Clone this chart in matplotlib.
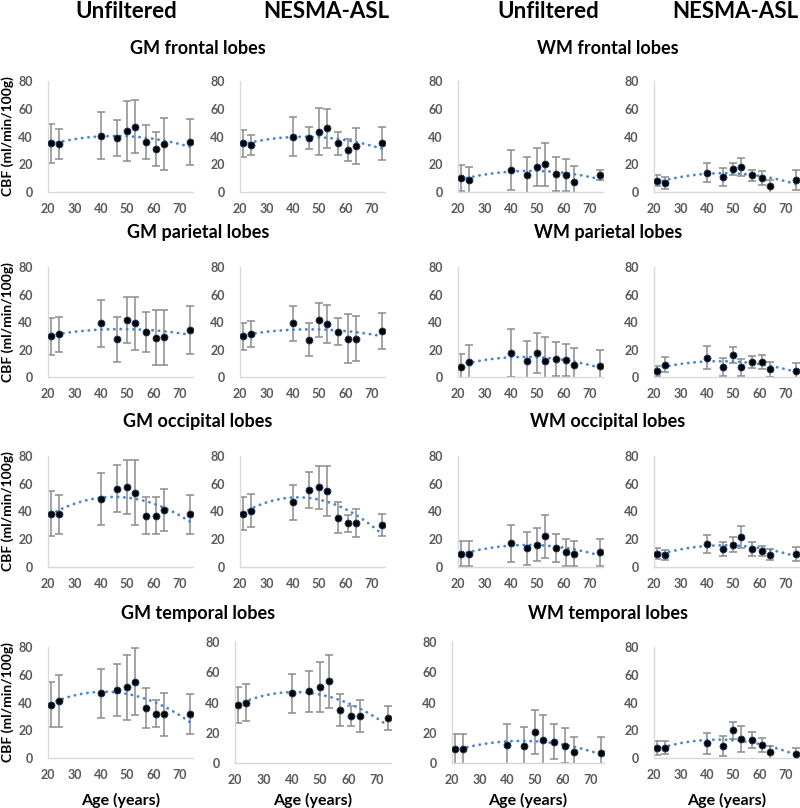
"""
CBF vs age, GM/WM lobes, unfiltered vs NESMA-ASL
"""

import numpy as np
import matplotlib
matplotlib.use('Agg')
import matplotlib.pyplot as plt

plt.rcParams['font.family'] = ['Lato', 'DejaVu Sans']

AGE = [21, 24, 40, 46, 50, 53, 57, 61, 64, 74]

# GM, unfiltered / NESMA-ASL (mean, sd)
gm_frontal_unf = [35, 34.5, 40.5, 39, 44, 47, 36, 31, 34.5, 36]
gm_frontal_unf_sd = [14, 11, 17, 13, 21.5, 19, 12, 12, 19, 16.5]
gm_frontal_nes = [35, 34, 40, 39, 43.5, 46, 35, 30, 33, 35]
gm_frontal_nes_sd = [10, 7, 14, 8, 17, 14, 8, 8, 13, 12]

gm_parietal_unf = [29.5, 31, 39, 27.5, 41.5, 39, 33, 28.5, 29, 34.5]
gm_parietal_unf_sd = [13.5, 12.5, 17, 16.5, 16.5, 19, 14.5, 20, 20, 17.5]
gm_parietal_nes = [29.5, 31, 39, 27, 41.5, 38.5, 33, 28, 28, 33.5]
gm_parietal_nes_sd = [10, 9.5, 13, 12, 12.5, 14, 10, 17.5, 16.5, 13]

gm_occipital_unf = [38.5, 38, 49, 56.5, 57.5, 53.5, 37, 37, 41, 38]
gm_occipital_unf_sd = [16.5, 14, 19, 17, 19.5, 23.5, 13.5, 13.5, 15, 14]
gm_occipital_nes = [38.5, 40.5, 46.5, 55.5, 57.5, 54.5, 35.5, 31.5, 31.5, 30.5]
gm_occipital_nes_sd = [12, 12, 12.5, 13, 15.5, 18, 11, 6, 10, 8]

gm_temporal_unf = [38.5, 41, 46.5, 49, 51, 55, 36, 32, 31.5, 31.5]
gm_temporal_unf_sd = [16.5, 18.5, 18, 19, 23.5, 24, 14.5, 10, 15.5, 14.5]
gm_temporal_nes = [38.5, 40, 46, 47.5, 50, 54, 35, 31, 31, 30]
gm_temporal_nes_sd = [12, 12, 13, 13.5, 16.5, 17.5, 10.5, 6.5, 10.5, 8]

# WM
wm_frontal_unf = [10, 8.5, 16, 12.5, 18, 20, 13, 12, 7.5, 12]
wm_frontal_unf_sd = [9.5, 9.5, 14.5, 13, 14, 15.5, 12, 11.5, 11.5, 3.5]
wm_frontal_nes = [8, 6.5, 14, 10.5, 16.5, 18, 12, 10, 4, 8.5]
wm_frontal_nes_sd = [4, 4.5, 7, 6.5, 4.5, 6.5, 4, 5, 4.5, 7]

wm_parietal_unf = [7.5, 11, 17.5, 11.5, 17.5, 12, 13, 12.5, 9, 8]
wm_parietal_unf_sd = [9, 12, 17.5, 15, 14.5, 17, 12.5, 11.5, 12, 11.5]
wm_parietal_nes = [4.5, 9, 14, 7, 16, 7, 11, 11, 5.5, 4.5]
wm_parietal_nes_sd = [3.5, 5.5, 8.5, 6.5, 5.5, 6, 4.5, 5, 5.5, 5.5]

wm_occipital_unf = [9.5, 9.5, 17, 13.5, 16, 22, 13.5, 10.5, 9.5, 10.5]
wm_occipital_unf_sd = [9, 9, 13.5, 12, 12, 15.5, 10, 10, 9, 9.5]
wm_occipital_nes = [9.5, 8.5, 16.5, 13, 16, 21.5, 13, 11.5, 9, 9.5]
wm_occipital_nes_sd = [4, 3.5, 6.5, 5, 5.5, 8, 5, 3.5, 4, 5]

wm_temporal_unf = [9.5, 9, 12, 11, 20.5, 15.5, 14, 11.5, 7, 6.5]
wm_temporal_unf_sd = [10, 10, 13.5, 13, 14.5, 16.5, 11.5, 11.5, 10.5, 10.5]
wm_temporal_nes = [7.5, 7.5, 10.5, 8.5, 20, 13.5, 13, 9.5, 4, 3]
wm_temporal_nes_sd = [5, 4.5, 7.5, 7, 6, 9.5, 5.5, 5, 4.5, 4.5]

ROWS = ['frontal', 'parietal', 'occipital', 'temporal']
PANELS = {
    'frontal': [(gm_frontal_unf, gm_frontal_unf_sd), (gm_frontal_nes, gm_frontal_nes_sd),
                (wm_frontal_unf, wm_frontal_unf_sd), (wm_frontal_nes, wm_frontal_nes_sd)],
    'parietal': [(gm_parietal_unf, gm_parietal_unf_sd), (gm_parietal_nes, gm_parietal_nes_sd),
                 (wm_parietal_unf, wm_parietal_unf_sd), (wm_parietal_nes, wm_parietal_nes_sd)],
    'occipital': [(gm_occipital_unf, gm_occipital_unf_sd), (gm_occipital_nes, gm_occipital_nes_sd),
                  (wm_occipital_unf, wm_occipital_unf_sd), (wm_occipital_nes, wm_occipital_nes_sd)],
    'temporal': [(gm_temporal_unf, gm_temporal_unf_sd), (gm_temporal_nes, gm_temporal_nes_sd),
                 (wm_temporal_unf, wm_temporal_unf_sd), (wm_temporal_nes, wm_temporal_nes_sd)],
}

W, H = 800, 808
ROW_Y = [(81, 192), (267, 377), (456, 567), (647, 758)]
COL_X = [(48, 193), (240, 385), (458, 603), (654, 799)]
# last row is a bit uneven in the original
SPECIAL = {(3, 1): ((235, 391), (642, 763)), (3, 2): ((452, 604), (642, 763))}

TICK_C = '#595959'
SPINE_C = '#d9d9d9'
TREND_C = '#4a86c8'


def px_axes(fig, x0, x1, y0, y1):
    return fig.add_axes([x0 / W, 1 - y1 / H, (x1 - x0) / W, (y1 - y0) / H])


def draw_panel(ax, mean, sd):
    age = np.array(AGE, dtype=float)
    mean = np.array(mean, dtype=float)
    ax.errorbar(age, mean, yerr=sd, fmt='none', ecolor='#8c8c8c', elinewidth=1.1,
                capsize=3, capthick=1.1, zorder=2)
    # 2nd order polynomial trendline, as in Excel
    coef = np.polyfit(age, mean, 2)
    xs = np.linspace(age.min(), age.max(), 120)
    ax.plot(xs, np.polyval(coef, xs), color=TREND_C, lw=2, linestyle=(0, (0.1, 2.2)),
            dash_capstyle='round', zorder=3)
    ax.plot(age, mean, 'o', color='black', markersize=5, markeredgecolor='#1f3b66',
            markeredgewidth=0.6, zorder=4)

    ax.set_xlim(20, 75)
    ax.set_ylim(0, 80)
    ax.set_xticks([20, 30, 40, 50, 60, 70])
    ax.set_yticks([0, 20, 40, 60, 80])
    for s in ['top', 'right']:
        ax.spines[s].set_visible(False)
    for s in ['left', 'bottom']:
        ax.spines[s].set_color(SPINE_C)
        ax.spines[s].set_linewidth(1)
    ax.tick_params(length=0, labelsize=9, labelcolor=TICK_C)
    ax.tick_params(axis='y', pad=11)
    ax.tick_params(axis='x', pad=8)
    for lab in ax.get_xticklabels() + ax.get_yticklabels():
        lab.set_fontweight('bold')
    ax.set_facecolor('none')


fig = plt.figure(figsize=(W / 100, H / 100), dpi=100)

# column headers
for xc, txt in [(126, 'Unfiltered'), (326, 'NESMA-ASL'), (548, 'Unfiltered'), (735, 'NESMA-ASL')]:
    fig.text(xc / W, 1 - 11 / H, txt, ha='center', va='center', fontsize=16, fontweight='bold')

SUB_Y = [48, 233, 422, 614]
for r, lobe in enumerate(ROWS):
    fig.text(198 / W, 1 - SUB_Y[r] / H, f'GM {lobe} lobes', ha='center', va='center',
             fontsize=13, fontweight='bold')
    fig.text(608 / W, 1 - SUB_Y[r] / H, f'WM {lobe} lobes', ha='center', va='center',
             fontsize=13, fontweight='bold')

    for c in range(4):
        (x0, x1), (y0, y1) = SPECIAL.get((r, c), (COL_X[c], ROW_Y[r]))
        ax = px_axes(fig, x0, x1, y0, y1)
        mean, sd = PANELS[lobe][c]
        draw_panel(ax, mean, sd)
        if r == 3:
            fig.text((x0 + x1) / 2 / W, 1 - 800 / H, 'Age (years)', ha='center', va='center',
                     fontsize=11.5, fontweight='bold')
        if c == 0:
            fig.text(8 / W, 1 - (y0 + y1) / 2 / H, 'CBF (ml/min/100g)', ha='center',
                     va='center', rotation=90, fontsize=10, fontweight='bold')

fig.savefig('out.png', dpi=100)
